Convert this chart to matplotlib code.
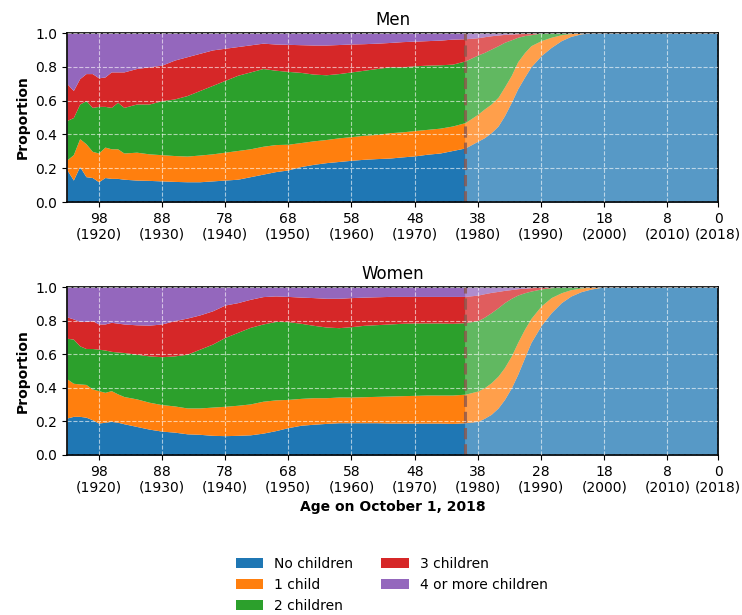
import numpy as np
import matplotlib
matplotlib.use("Agg")
import matplotlib.pyplot as plt

# categories, stacked bottom to top
categories = ["No children", "1 child", "2 children", "3 children", "4 or more children"]
colors = ["tab:blue", "tab:orange", "tab:green", "tab:red", "tab:purple"]

# ages of observed cohorts (up to 40) and of projected cohorts (40 and under)
ages_obs = [103, 102, 101, 100, 99, 98, 97, 96, 95, 94, 92, 90, 88, 86, 84, 82, 80, 78, 76,
            74, 72, 70, 68, 66, 64, 62, 60, 58, 56, 54, 52, 50, 48, 46, 44, 42, 40]
ages_proj = [40, 38, 37, 35.9, 34.8, 33.8, 32.7, 31.7, 30.6, 29.6, 28, 26.4, 24.8, 23.3,
             21.7, 20.1, 18.5, 0]

# cumulative proportions (top edge of each band; the last band always reaches 1.0)
men_none = [0.19, 0.13, 0.21, 0.15, 0.145, 0.12, 0.145, 0.14, 0.14, 0.135, 0.13, 0.128, 0.125,
            0.122, 0.12, 0.12, 0.125, 0.13, 0.135, 0.15, 0.165, 0.18, 0.19, 0.21, 0.223, 0.233,
            0.24, 0.247, 0.253, 0.257, 0.26, 0.267, 0.273, 0.283, 0.29, 0.305, 0.32]
men_one = [0.25, 0.28, 0.375, 0.345, 0.30, 0.29, 0.325, 0.315, 0.315, 0.29, 0.295, 0.285, 0.28,
           0.275, 0.272, 0.278, 0.285, 0.295, 0.305, 0.315, 0.33, 0.34, 0.342, 0.352, 0.362,
           0.37, 0.38, 0.387, 0.395, 0.40, 0.41, 0.415, 0.423, 0.43, 0.437, 0.45, 0.47]
men_two = [0.483, 0.50, 0.58, 0.60, 0.56, 0.566, 0.566, 0.56, 0.59, 0.56, 0.58, 0.58, 0.60,
           0.61, 0.63, 0.66, 0.69, 0.72, 0.75, 0.77, 0.79, 0.78, 0.773, 0.767, 0.757, 0.753,
           0.76, 0.77, 0.78, 0.79, 0.80, 0.80, 0.806, 0.81, 0.812, 0.816, 0.835]
men_three = [0.70, 0.66, 0.73, 0.76, 0.76, 0.735, 0.74, 0.77, 0.77, 0.77, 0.79, 0.80, 0.81,
             0.84, 0.86, 0.88, 0.90, 0.91, 0.92, 0.93, 0.94, 0.935, 0.933, 0.931, 0.929, 0.929,
             0.932, 0.935, 0.937, 0.94, 0.944, 0.949, 0.952, 0.955, 0.958, 0.964, 0.966]

men_none_p = [0.32, 0.36, 0.38, 0.41, 0.45, 0.51, 0.59, 0.67, 0.74, 0.80, 0.866, 0.915, 0.955,
              0.98, 0.995, 1.0, 1.0, 1.0]
men_one_p = [0.47, 0.52, 0.55, 0.58, 0.62, 0.68, 0.75, 0.83, 0.885, 0.925, 0.955, 0.975, 0.99,
             0.997, 1.0, 1.0, 1.0, 1.0]
men_two_p = [0.835, 0.87, 0.885, 0.905, 0.925, 0.945, 0.96, 0.975, 0.985, 0.99, 1.0, 1.0, 1.0,
             1.0, 1.0, 1.0, 1.0, 1.0]
men_three_p = [0.966, 0.972, 0.978, 0.984, 0.988, 0.992, 0.994, 0.996, 0.998, 1.0, 1.0, 1.0,
               1.0, 1.0, 1.0, 1.0, 1.0, 1.0]

women_none = [0.22, 0.23, 0.23, 0.225, 0.21, 0.19, 0.195, 0.20, 0.195, 0.186, 0.17, 0.154, 0.142,
              0.136, 0.126, 0.123, 0.117, 0.115, 0.117, 0.12, 0.13, 0.145, 0.163, 0.177, 0.183,
              0.188, 0.192, 0.192, 0.192, 0.192, 0.19, 0.19, 0.19, 0.19, 0.19, 0.188, 0.192]
women_one = [0.453, 0.427, 0.423, 0.42, 0.393, 0.383, 0.373, 0.383, 0.364, 0.348, 0.334, 0.314,
             0.30, 0.292, 0.28, 0.28, 0.285, 0.29, 0.296, 0.304, 0.32, 0.328, 0.331, 0.337,
             0.341, 0.341, 0.345, 0.345, 0.347, 0.349, 0.351, 0.353, 0.355, 0.357, 0.357,
             0.357, 0.362]
women_two = [0.695, 0.69, 0.65, 0.634, 0.634, 0.63, 0.625, 0.617, 0.613, 0.61, 0.60, 0.59, 0.585,
             0.59, 0.60, 0.63, 0.66, 0.70, 0.73, 0.76, 0.78, 0.795, 0.794, 0.784, 0.772, 0.762,
             0.758, 0.764, 0.772, 0.776, 0.78, 0.784, 0.786, 0.786, 0.786, 0.784, 0.788]
women_three = [0.822, 0.81, 0.795, 0.795, 0.80, 0.78, 0.78, 0.79, 0.785, 0.78, 0.775, 0.773,
               0.78, 0.80, 0.815, 0.834, 0.858, 0.893, 0.907, 0.927, 0.943, 0.947, 0.944, 0.94,
               0.937, 0.933, 0.933, 0.937, 0.94, 0.942, 0.944, 0.944, 0.944, 0.944, 0.944,
               0.944, 0.944]

women_none_p = [0.192, 0.20, 0.218, 0.242, 0.28, 0.33, 0.40, 0.48, 0.58, 0.67, 0.77, 0.847,
                0.907, 0.946, 0.972, 0.988, 0.998, 1.0]
women_one_p = [0.362, 0.381, 0.40, 0.43, 0.47, 0.52, 0.59, 0.67, 0.75, 0.813, 0.887, 0.937,
               0.966, 0.984, 0.994, 1.0, 1.0, 1.0]
women_two_p = [0.788, 0.80, 0.82, 0.847, 0.877, 0.907, 0.933, 0.952, 0.966, 0.976, 0.988, 0.996,
               1.0, 1.0, 1.0, 1.0, 1.0, 1.0]
women_three_p = [0.944, 0.952, 0.96, 0.968, 0.974, 0.98, 0.985, 0.99, 0.993, 0.996, 1.0, 1.0,
                 1.0, 1.0, 1.0, 1.0, 1.0, 1.0]

tick_ages = [98, 88, 78, 68, 58, 48, 38, 28, 18, 8, 0]
tick_years = [1920, 1930, 1940, 1950, 1960, 1970, 1980, 1990, 2000, 2010, 2018]
cutoff_age = 40


def draw_bands(ax, ages, tops, alpha, labels=None):
    ages = np.asarray(ages)
    lower = np.zeros(len(ages))
    for i, top in enumerate(tops + [np.ones(len(ages))]):
        top = np.asarray(top)
        ax.fill_between(ages, lower, top, color=colors[i], alpha=alpha, lw=0,
                        label=labels[i] if labels else None)
        lower = top


fig = plt.figure(figsize=(7.42, 6.15), dpi=100)
ax_men = fig.add_axes([0.0903, 0.6715, 0.8774, 0.2748])
ax_women = fig.add_axes([0.0903, 0.2602, 0.8774, 0.2731])

panels = [
    (ax_men, "Men", [men_none, men_one, men_two, men_three],
     [men_none_p, men_one_p, men_two_p, men_three_p]),
    (ax_women, "Women", [women_none, women_one, women_two, women_three],
     [women_none_p, women_one_p, women_two_p, women_three_p]),
]

for ax, title, obs, proj in panels:
    draw_bands(ax, ages_obs, obs, 1.0, labels=categories if ax is ax_men else None)
    draw_bands(ax, ages_proj, proj, 0.75)
    ax.axvline(cutoff_age, color="tab:brown", ls="--", lw=2.2, alpha=0.8)
    ax.set_xlim(103, 0)
    ax.set_ylim(0, 1)
    ax.set_yticks(np.arange(0, 1.01, 0.2))
    ax.set_xticks(tick_ages)
    ax.set_xticklabels([f"{a}\n({y})" for a, y in zip(tick_ages, tick_years)])
    ax.tick_params(labelsize=10)
    ax.set_axisbelow(False)
    ax.grid(color="white", ls="--", lw=0.8, alpha=0.6)
    ax.set_ylabel("Proportion", fontweight="bold", fontsize=10)
    ax.set_title(title, fontsize=12)
    for s in ax.spines.values():
        s.set_linewidth(1.2)

ax_women.set_xlabel("Age on October 1, 2018", fontweight="bold", fontsize=10)

fig.legend(loc="upper center", bbox_to_anchor=(0.528, 0.115), ncol=2, frameon=False,
           fontsize=10)

fig.savefig("out.png", dpi=100)
